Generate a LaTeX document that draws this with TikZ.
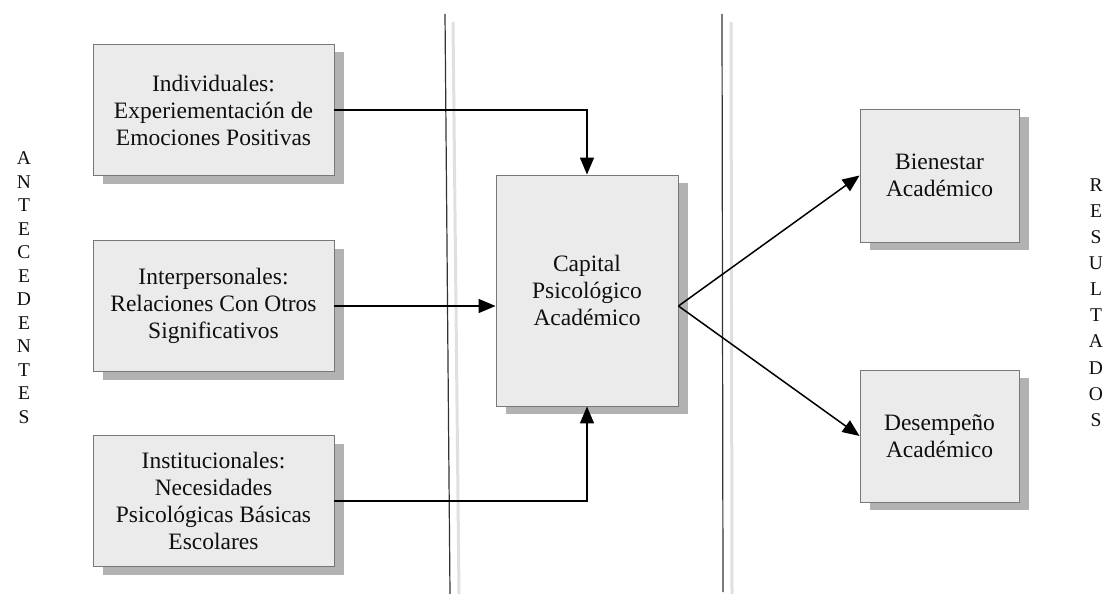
\documentclass[tikz,border=0pt]{standalone}
\usepackage{fontspec}
\setmainfont{Liberation Serif}
\usetikzlibrary{arrows.meta,shadows}

\definecolor{boxfill}{RGB}{235,235,235}
\definecolor{boxedge}{RGB}{120,120,120}
\definecolor{shade}{RGB}{178,178,178}
\definecolor{ink}{RGB}{15,15,15}

\tikzset{
  factor/.style={rectangle, draw=boxedge, line width=0.9pt, fill=boxfill,
    align=center, inner sep=4pt, text=ink,
    font=\fontsize{23.5}{27}\selectfont,
    drop shadow={shadow xshift=10pt, shadow yshift=-8pt, fill=shade, opacity=1}},
  link/.style={draw=black, line width=1.5pt,
    -{Triangle[length=17pt,width=14pt]}},
  divider/.style={draw=black!80, line width=1.2pt},
  halo/.style={draw=black!12, line width=3pt},
  sidelabel/.style={align=center, text=ink, inner sep=0pt}
}

\begin{document}
\begin{tikzpicture}[x=1pt, y=-1pt]
  \useasboundingbox (0,0) rectangle (1108,594);

  % column separators
  \draw[halo] (453,22) -- (459,594);
  \draw[divider] (445,14) -- (450,594);
  \draw[halo] (731,22) -- (732,594);
  \draw[divider] (722,14) -- (723,592);

  % antecedents
  \node[factor, minimum width=241pt, minimum height=131pt] (ind) at (213.5,110)
    {Individuales:\\Experiementación de\\Emociones Positivas};
  \node[factor, minimum width=241pt, minimum height=131pt] (inter) at (213.5,306)
    {Interpersonales:\\Relaciones Con Otros\\Significativos};
  \node[factor, minimum width=241pt, minimum height=131pt] (inst) at (213.5,501)
    {Institucionales:\\Necesidades\\Psicológicas Básicas\\Escolares};

  % central construct
  \node[factor, minimum width=182pt, minimum height=231pt] (cap) at (587,290.5)
    {Capital\\Psicológico\\Académico};

  % outcomes
  \node[factor, minimum width=159pt, minimum height=133pt] (bien) at (939.5,175.5)
    {Bienestar\\Académico};
  \node[factor, minimum width=159pt, minimum height=132pt] (des) at (939.5,436)
    {Desempeño\\Académico};

  % side headings
  \node[sidelabel, font=\fontsize{19.5}{23.5}\selectfont] (ante) at (24,287.5)
    {A\\N\\T\\E\\C\\E\\D\\E\\N\\T\\E\\S};
  \node[sidelabel, font=\fontsize{19.5}{26.1}\selectfont] (res) at (1096,302.5)
    {R\\E\\S\\U\\L\\T\\A\\D\\O\\S};

  % connectors
  \coordinate (hub) at (cap.east |- inter.east);
  \draw[link] (ind.east) -| (cap.north);
  \draw[link] (inter.east) -- (inter.east -| cap.west);
  \draw[link] (inst.east) -| (cap.south);
  \draw[link] (hub) -- (bien.west);
  \draw[link] (hub) -- (des.west);
\end{tikzpicture}
\end{document}
